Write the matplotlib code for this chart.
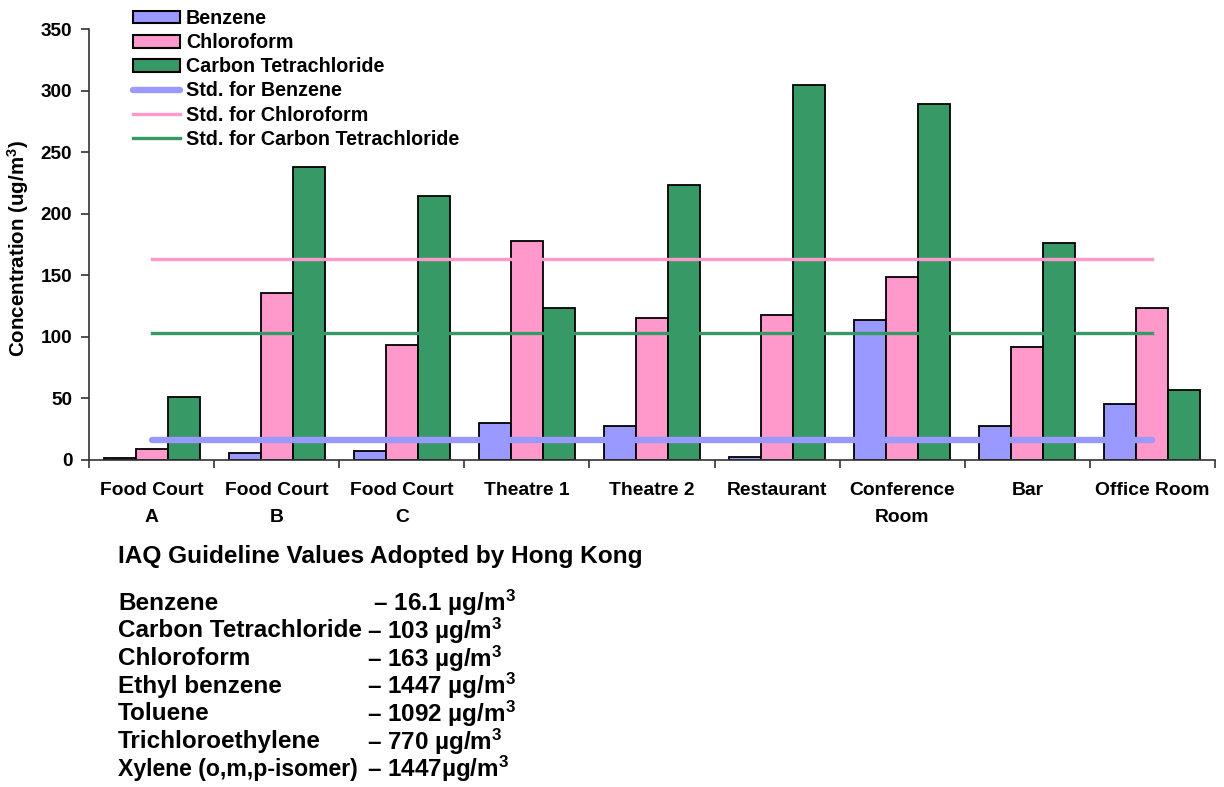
import numpy as np
import matplotlib
matplotlib.use("Agg")
import matplotlib.pyplot as plt
from matplotlib.patches import Patch
from matplotlib.lines import Line2D

plt.rcParams['font.family'] = ['Liberation Sans', 'DejaVu Sans']
plt.rcParams['font.weight'] = 'bold'
plt.rcParams['mathtext.fontset'] = 'custom'
plt.rcParams['mathtext.rm'] = 'Liberation Sans:bold'
plt.rcParams['mathtext.it'] = 'Liberation Sans:bold'
plt.rcParams['mathtext.bf'] = 'Liberation Sans:bold'

# Measured indoor concentrations (ug/m3)
locations = ["Food Court\nA", "Food Court\nB", "Food Court\nC", "Theatre 1",
             "Theatre 2", "Restaurant", "Conference\nRoom", "Bar", "Office Room"]
benzene = [1.4, 5.7, 7.0, 30.3, 27.6, 2.7, 113.7, 27.6, 45.2]
chloroform = [8.7, 135.4, 93.1, 178.1, 115.0, 117.7, 148.6, 91.8, 123.7]
carbon_tet = [50.9, 237.7, 214.1, 123.7, 223.0, 304.8, 288.9, 176.5, 56.8]

# Hong Kong IAQ guideline values used as reference lines
std_benzene = 16.1
std_chloroform = 163
std_carbon_tet = 103

series_names = ["Benzene", "Chloroform", "Carbon Tetrachloride"]
std_names = ["Std. for Benzene", "Std. for Chloroform", "Std. for Carbon Tetrachloride"]

guideline_names = ["Benzene", "Carbon Tetrachloride", "Chloroform", "Ethyl benzene",
                   "Toluene", "Trichloroethylene", "Xylene (o,m,p-isomer)"]
guideline_values = [" \u2013 16.1 \u00b5g/m$^3$", "\u2013 103 \u00b5g/m$^3$",
                    "\u2013 163 \u00b5g/m$^3$", "\u2013 1447 \u00b5g/m$^3$",
                    "\u2013 1092 \u00b5g/m$^3$", "\u2013 770 \u00b5g/m$^3$",
                    "\u2013 1447\u00b5g/m$^3$"]

c_benz = "#9999FF"
c_chlo = "#FF99CC"
c_ct = "#379966"

W, H = 1224, 787
fig = plt.figure(figsize=(W / 100, H / 100), dpi=100)
ax = fig.add_axes([89 / W, 1 - 460 / H, (1215 - 89) / W, (460 - 29) / H])

x = np.arange(len(locations))
bw = 0.256
ax.bar(x - bw, benzene, bw, color=c_benz, edgecolor="black", linewidth=1.3, zorder=2)
ax.bar(x, chloroform, bw, color=c_chlo, edgecolor="black", linewidth=1.3, zorder=2)
ax.bar(x + bw, carbon_tet, bw, color=c_ct, edgecolor="black", linewidth=1.3, zorder=2)

ax.plot(x, [std_benzene] * len(x), color=c_benz, lw=4.6, solid_capstyle="round", zorder=3)
ax.plot(x, [std_chloroform] * len(x), color=c_chlo, lw=2.4, zorder=3)
ax.plot(x, [std_carbon_tet] * len(x), color=c_ct, lw=2.4, zorder=3)

ax.set_xlim(-0.5, len(x) - 0.5)
ax.set_ylim(0, 350)
ax.set_yticks(np.arange(0, 351, 50))
ax.set_xticks(x)
ax.set_xticklabels(locations, fontsize=13.9, fontweight="bold", linespacing=1.72)
ax.set_xticks(np.arange(-0.5, len(x), 1.0), minor=True)
ax.tick_params(axis="x", which="major", length=0, pad=16)
ax.tick_params(axis="x", which="minor", length=6, width=1.2, direction="out", color="#333333")
ax.tick_params(axis="y", length=6, width=1.2, direction="out", labelsize=13.7, pad=6, color="#333333")
for lab in ax.get_yticklabels():
    lab.set_fontweight("bold")

for s in ["top", "right"]:
    ax.spines[s].set_visible(False)
for s in ["left", "bottom"]:
    ax.spines[s].set_linewidth(1.2)
    ax.spines[s].set_color("#333333")

fig.text(18 / W, 1 - 249 / H, "Concentration (ug/m$^3$)", rotation=90,
         ha="center", va="center", fontsize=14.8, fontweight="bold")

handles = [Patch(facecolor=c_benz, edgecolor="black", linewidth=1.5),
           Patch(facecolor=c_chlo, edgecolor="black", linewidth=1.5),
           Patch(facecolor=c_ct, edgecolor="black", linewidth=1.5),
           Line2D([], [], color=c_benz, lw=4.6, solid_capstyle="round"),
           Line2D([], [], color=c_chlo, lw=2.4),
           Line2D([], [], color=c_ct, lw=2.4)]
fig.legend(handles, series_names + std_names, loc="upper left",
           bbox_to_anchor=(133 / W, 1 - 9 / H), frameon=False, borderpad=0,
           borderaxespad=0, prop={"weight": "bold", "size": 14.2},
           handlelength=2.39, handleheight=0.62, handletextpad=0.3, labelspacing=0.26)

fig.text(118 / W, 1 - 557 / H, "IAQ Guideline Values Adopted by Hong Kong",
         ha="left", va="center", fontsize=17.6, fontweight="bold")
row0, step = 603, 27.7
for i, (nm, val) in enumerate(zip(guideline_names, guideline_values)):
    yy = 1 - (row0 + i * step) / H
    name_size = 16.6 if len(nm) > 20 else 17.5
    fig.text(118 / W, yy, nm, ha="left", va="center", fontsize=name_size, fontweight="bold")
    fig.text(367 / W, yy, val, ha="left", va="center", fontsize=17.5, fontweight="bold")

fig.savefig("out.png", dpi=100)
